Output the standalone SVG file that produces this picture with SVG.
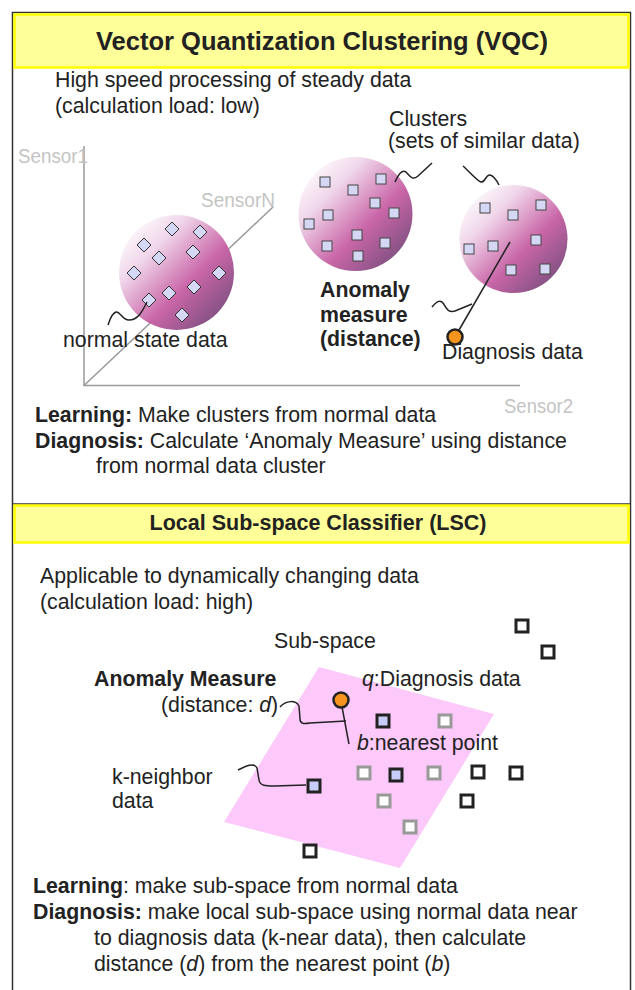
<svg xmlns="http://www.w3.org/2000/svg" xmlns:xlink="http://www.w3.org/1999/xlink" width="635" height="990" viewBox="0 0 635 990">
<style>
text{font-family:"Liberation Sans",Arial,sans-serif;fill:#222}
.t{font-size:21.3px}
.b{font-weight:bold}
.h{font-size:25.5px;font-weight:bold}
.h2{font-size:21.5px;font-weight:bold}
.sen{font-size:20px;fill:#c4c4c4}
.hdr{fill:#ffff99;stroke:#ffff00;stroke-width:2.5}
.frame{fill:none;stroke:#333;stroke-width:1.5}
.axis{fill:none;stroke:#999;stroke-width:1.5}
.dm{fill:#d5d8f5;stroke:#333;stroke-width:1}
.sq{fill:#d5d8f5;stroke:#444;stroke-width:1}
.wire{fill:none;stroke:#222;stroke-width:1.5}
.orange{fill:#f7941d;stroke:#222;stroke-width:2.5}
.kb{fill:#c8ccf8;stroke:#222;stroke-width:3}
.kg{fill:#fff;stroke:#999;stroke-width:3}
.kk{fill:#fff;stroke:#222;stroke-width:3}
</style>
<defs>
<linearGradient id="grad" x1="0.08" y1="0.08" x2="0.95" y2="0.95">
<stop offset="0" stop-color="#ffffff"/>
<stop offset="0.25" stop-color="#f0d6ea"/>
<stop offset="0.6" stop-color="#c966a8"/>
<stop offset="1" stop-color="#6f4b78"/>
</linearGradient>
<path id="dia" d="M0,-7 L7,0 0,7 -7,0Z"/>
<rect id="s1" x="-5" y="-5" width="10" height="10"/>
<rect id="s2" x="-6" y="-6" width="12" height="12"/>
</defs>

<g id="frame">
<path class="frame" d="M12.5,990 V12.5 H630.5 V990"/>
<line x1="12.5" y1="504" x2="630.5" y2="504" stroke="#333" stroke-width="1.5"/>
</g>

<g id="header-vqc">
<rect class="hdr" x="14.5" y="14.5" width="614" height="53"/>
<text class="h" x="322" y="50" text-anchor="middle">Vector Quantization Clustering (VQC)</text>
</g>

<g id="vqc-intro">
<text class="t" x="55" y="87">High speed processing of steady data</text>
<text class="t" x="55" y="113">(calculation load: low)</text>
</g>

<g id="axes">
<path class="axis" d="M84,146 V385.5 H520"/>
<line class="axis" x1="84" y1="385.5" x2="273" y2="207"/>
<text class="sen" x="18" y="163" textLength="70" lengthAdjust="spacingAndGlyphs">Sensor1</text>
<text class="sen" x="201" y="207" textLength="74" lengthAdjust="spacingAndGlyphs">SensorN</text>
<text class="sen" x="504" y="413" textLength="69" lengthAdjust="spacingAndGlyphs">Sensor2</text>
</g>

<g id="cluster1">
<circle cx="176.5" cy="272.5" r="57.5" fill="url(#grad)"/>
<use href="#dia" class="dm" x="172" y="229"/>
<use href="#dia" class="dm" x="200" y="232"/>
<use href="#dia" class="dm" x="144" y="245"/>
<use href="#dia" class="dm" x="159" y="258"/>
<use href="#dia" class="dm" x="193" y="252"/>
<use href="#dia" class="dm" x="134" y="273"/>
<use href="#dia" class="dm" x="219" y="273"/>
<use href="#dia" class="dm" x="169" y="293"/>
<use href="#dia" class="dm" x="194" y="287"/>
<use href="#dia" class="dm" x="149" y="300"/>
<use href="#dia" class="dm" x="182" y="315"/>
</g>

<g id="cluster2">
<circle cx="355.5" cy="214" r="57" fill="url(#grad)"/>
<use href="#s1" class="sq" x="325" y="182"/>
<use href="#s1" class="sq" x="353" y="190"/>
<use href="#s1" class="sq" x="381" y="179"/>
<use href="#s1" class="sq" x="375" y="203"/>
<use href="#s1" class="sq" x="394" y="213"/>
<use href="#s1" class="sq" x="328" y="215"/>
<use href="#s1" class="sq" x="309" y="224"/>
<use href="#s1" class="sq" x="357" y="235"/>
<use href="#s1" class="sq" x="327" y="246"/>
<use href="#s1" class="sq" x="385" y="243"/>
<use href="#s1" class="sq" x="358" y="256"/>
</g>

<g id="cluster3">
<circle cx="513.5" cy="239" r="54" fill="url(#grad)"/>
<use href="#s1" class="sq" x="485" y="208"/>
<use href="#s1" class="sq" x="513" y="215"/>
<use href="#s1" class="sq" x="541" y="205"/>
<use href="#s1" class="sq" x="536" y="240"/>
<use href="#s1" class="sq" x="493" y="246"/>
<use href="#s1" class="sq" x="469" y="249"/>
<use href="#s1" class="sq" x="511" y="270"/>
<use href="#s1" class="sq" x="545" y="269"/>
</g>

<g id="vqc-labels">
<text class="t" x="389" y="126">Clusters</text>
<text class="t" x="388" y="148">(sets of similar data)</text>
<text class="t" x="63" y="347">normal state data</text>
<text class="t b" x="320" y="297">Anomaly</text>
<text class="t b" x="320" y="322">measure</text>
<text class="t b" x="320" y="346">(distance)</text>
<text class="t" x="442" y="359">Diagnosis data</text>
</g>

<g id="vqc-notes">
<text class="t" x="35" y="422"><tspan class="b">Learning:</tspan> Make clusters from normal data</text>
<text class="t" x="35" y="448"><tspan class="b">Diagnosis:</tspan> Calculate ‘Anomaly Measure’ using distance</text>
<text class="t" x="96" y="473">from normal data cluster</text>
</g>

<g id="header-lsc">
<rect class="hdr" x="14.5" y="505.5" width="614" height="37"/>
<text class="h2" x="318" y="530" text-anchor="middle">Local Sub-space Classifier (LSC)</text>
</g>

<g id="lsc-intro">
<text class="t" x="40" y="583">Applicable to dynamically changing data</text>
<text class="t" x="40" y="609">(calculation load: high)</text>
</g>

<g id="subspace">
<polygon points="319,667 494,714 400,868 224,822" fill="#fdc9fb"/>
<text class="t" x="274" y="648">Sub-space</text>
</g>

<g id="lsc-points">
<use href="#s2" class="kk" x="522" y="626"/>
<use href="#s2" class="kk" x="548" y="652"/>
<use href="#s2" class="kb" x="383" y="721"/>
<use href="#s2" class="kg" x="445" y="721"/>
<use href="#s2" class="kg" x="364" y="773"/>
<use href="#s2" class="kb" x="396" y="775"/>
<use href="#s2" class="kg" x="434" y="773"/>
<use href="#s2" class="kk" x="478" y="772"/>
<use href="#s2" class="kk" x="516" y="773"/>
<use href="#s2" class="kb" x="314" y="786"/>
<use href="#s2" class="kg" x="384" y="801"/>
<use href="#s2" class="kk" x="467" y="801"/>
<use href="#s2" class="kg" x="410" y="827"/>
<use href="#s2" class="kk" x="310" y="851"/>
</g>

<g id="lsc-labels">
<text class="t b" x="94" y="686">Anomaly Measure</text>
<text class="t" x="161" y="712">(distance: <tspan font-style="italic">d</tspan>)</text>
<text class="t" x="362" y="686"><tspan font-style="italic">q</tspan>:Diagnosis data</text>
<text class="t" x="357" y="750"><tspan font-style="italic">b</tspan>:nearest point</text>
<text class="t" x="112" y="784">k-neighbor</text>
<text class="t" x="112" y="808">data</text>
</g>

<g id="lsc-notes">
<text class="t" x="33" y="893"><tspan class="b">Learning</tspan>: make sub-space from normal data</text>
<text class="t" x="33" y="919"><tspan class="b">Diagnosis:</tspan> make local sub-space using normal data near</text>
<text class="t" x="94" y="945">to diagnosis data (k-near data), then calculate</text>
<text class="t" x="94" y="971">distance (<tspan font-style="italic">d</tspan>) from the nearest point (<tspan font-style="italic">b</tspan>)</text>
</g>

<g id="connectors">
<path class="wire" d="M147,302 C142,312 138,320 129,320 C122,320 120,311 116,312 C111,314 110,320 108,325"/>
<path class="wire" d="M395,182 C398,175 402,169 406,172 C410,176 412,181 418,176 L432,163"/>
<path class="wire" d="M463,166 C470,172 476,180 481,182 C485,183 486,174 490,175 C494,176 497,181 499,185"/>
<line class="wire" x1="510" y1="242" x2="455" y2="337"/>
<path class="wire" d="M432,307 C436,302 440,299 443,303 C446,308 448,313 455,311 L472,304"/>
<path class="wire" d="M280,707 C286,700 296,700 299,706 L300,719 C300,724 304,724 310,723 L346,721"/>
<line class="wire" x1="342" y1="707" x2="349" y2="744"/>
<path class="wire" d="M238,770 C246,766 254,762 257,768 L259,780 C260,786 266,786 274,786 L306,785"/>
</g>

<g id="diagnosis-point-vqc">
<circle class="orange" cx="455" cy="337" r="7.5"/>
</g>

<g id="diagnosis-point-lsc">
<circle class="orange" cx="341" cy="700" r="7.5"/>
</g>
</svg>
